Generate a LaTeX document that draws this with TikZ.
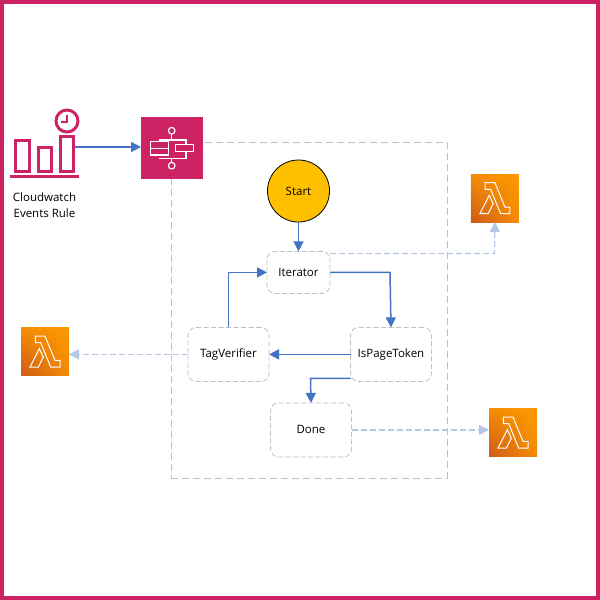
\documentclass[tikz,border=0pt]{standalone}
\usepackage{fontspec}
\setmainfont{Open Sans}
\usetikzlibrary{arrows.meta,calc,positioning,shadings}
\definecolor{awspink}{HTML}{CD2264}
\definecolor{flowblue}{HTML}{4472C4}
\definecolor{lightblue}{HTML}{B4C7E7}
\definecolor{framegray}{HTML}{BFBFBF}
\definecolor{startyellow}{HTML}{FFC000}
\definecolor{lambdadark}{HTML}{CC5A17}
\definecolor{lambdalight}{HTML}{FF9900}
\tikzstyle{state} = [rectangle, draw=framegray, dash pattern=on 5pt off 2.5pt, line width=0.8pt, rounded corners=8pt, outer sep=0pt, inner sep=0pt, font=\fontsize{11.5}{13}\selectfont]
\tikzstyle{flow} = [draw=flowblue, line width=1.5pt, -{Triangle[length=10pt,width=10pt]}]
\tikzstyle{call} = [draw=lightblue, line width=1.2pt, dash pattern=on 6pt off 3pt, -{Triangle[length=10pt,width=10pt,fill=lightblue]}]
\tikzstyle{lambdaicon} = [rectangle, minimum size=48pt, inner sep=0pt, outer sep=0pt, lower left=lambdadark, upper right=lambdalight, upper left=lambdalight!80!lambdadark, lower right=lambdalight!80!lambdadark]
\tikzstyle{stepicon} = [rectangle, fill=awspink, minimum size=62pt, inner sep=0pt, outer sep=0pt]
\tikzstyle{rulebar} = [rectangle, draw=awspink, line width=3pt, inner sep=0pt, outer sep=1.5pt]
\newcommand{\lambdaglyph}[1]{
  \draw[white, line width=1pt, shift={(#1.north west)}]
    (14.3,8.7) -- (24,8.7) -- (34,33) -- (39,33) -- (39,39.7) -- (29.7,39.7) -- (19.7,15.3) -- (14.3,15.3) -- cycle
    (9,39.7) -- (18.3,21.3) -- (22.3,29.7) -- (17.3,39.7) -- cycle;
}
\begin{document}
\begin{tikzpicture}[x=1pt,y=-1pt]
      \useasboundingbox (0,0) rectangle (600,600);
      \draw[awspink, line width=4pt] (2,2) rectangle (598,598);
      \node[rectangle, draw=framegray, dash pattern=on 7pt off 4pt, line width=0.8pt, minimum width=276pt, minimum height=336pt, inner sep=0pt] (ScopeFrame) at (309,310) {};
      % the rule icon
      \node[rulebar, minimum width=14pt, minimum height=31pt] (FirstBar) at (22.5,156) {};
      \node[rulebar, minimum width=13pt, minimum height=24pt] (SecondBar) at (45,159.5) {};
      \node[rulebar, minimum width=13pt, minimum height=35pt] (ThirdBar) at (67,154) {};
      \draw[awspink, line width=3pt] (10,176) -- (79,176);
      \node[circle, draw=awspink, line width=3pt, minimum size=22pt, inner sep=0pt] (RuleClock) at (67,121) {};
      \draw[awspink, line width=2pt] (RuleClock.center) ++(0,-6) -- ++(0,7) -- ++(-6,0);
      \node[align=center, font=\fontsize{11.5}{16}\selectfont] (RuleLabel) at (44.5,205) {Cloudwatch\\Events Rule};
      %
      \node[stepicon] (StepFunctions) at (172,148) {};
      \begin{scope}[white, line width=1.2pt, shift={(StepFunctions.north west)}]
        \draw (30.7,13.7) circle (3.3);
        \draw (30.7,48.7) circle (3.3);
        \draw (30.7,17) -- (30.7,23) -- (45,23) -- (45,27.3);
        \draw (30.7,45.4) -- (30.7,41.3) -- (45,41.3) -- (45,34.7);
        \draw (18,23) -- (30.7,23) (18,41.3) -- (30.7,41.3);
        \draw[fill=awspink] (9.7,24.7) rectangle (27.3,38);
        \draw (9.7,31.3) -- (27.3,31.3);
        \draw[fill=awspink] (34.7,27.3) rectangle (52.3,34.7);
      \end{scope}
      \node[circle, draw=black, fill=startyellow, line width=0.8pt, minimum size=62pt, inner sep=0pt, font=\fontsize{11.5}{13}\selectfont] (Start) at (298.5,191) {Start};
      \node[state, minimum width=63pt, minimum height=42pt, below=29pt of Start] (Iterator) {Iterator};
      \node[state, minimum width=81pt, minimum height=54pt, below=34pt of Iterator, xshift=-70pt] (TagVerifier) {TagVerifier};
      \node[state, minimum width=81pt, minimum height=54pt, right=81.5pt of TagVerifier] (IsPageToken) {IsPageToken};
      \node[state, minimum width=81pt, minimum height=54pt, below=21.5pt of TagVerifier, xshift=82.5pt] (Done) {Done};
      \node[lambdaicon, right=141pt of Start, yshift=-7pt] (LambdaIterator) {};
      \node[lambdaicon, left=119pt of TagVerifier, yshift=3pt] (LambdaVerifier) {};
      \node[lambdaicon, right=137.5pt of Done, yshift=-2.5pt] (LambdaDone) {};
      \lambdaglyph{LambdaIterator}
      \lambdaglyph{LambdaVerifier}
      \lambdaglyph{LambdaDone}
      %
      \draw[flow] ($(ThirdBar.east |- StepFunctions.west)+(0,-1)$) -- ($(StepFunctions.west)+(0,-1)$);
      \draw[flow] (Start) -- (Iterator);
      \draw[flow] (Iterator.east) -- ++(60,0) -- (IsPageToken.north);
      \draw[flow] (IsPageToken) -- (TagVerifier);
      \draw[flow] (TagVerifier.north) -- ++(0,-55) -- (Iterator.west);
      \draw[flow] ([yshift=-24pt]IsPageToken.west) -- ++(-40,0) -- (Done.north);
      \draw[call] ([yshift=19pt]Iterator.east) -- ++(164.5,0) -- (LambdaIterator.south);
      \draw[call] (TagVerifier.west) -- (TagVerifier.west -| LambdaVerifier.east);
      \draw[call] (Done.east) -- (Done.east -| LambdaDone.west);
    \end{tikzpicture}
\end{document}
